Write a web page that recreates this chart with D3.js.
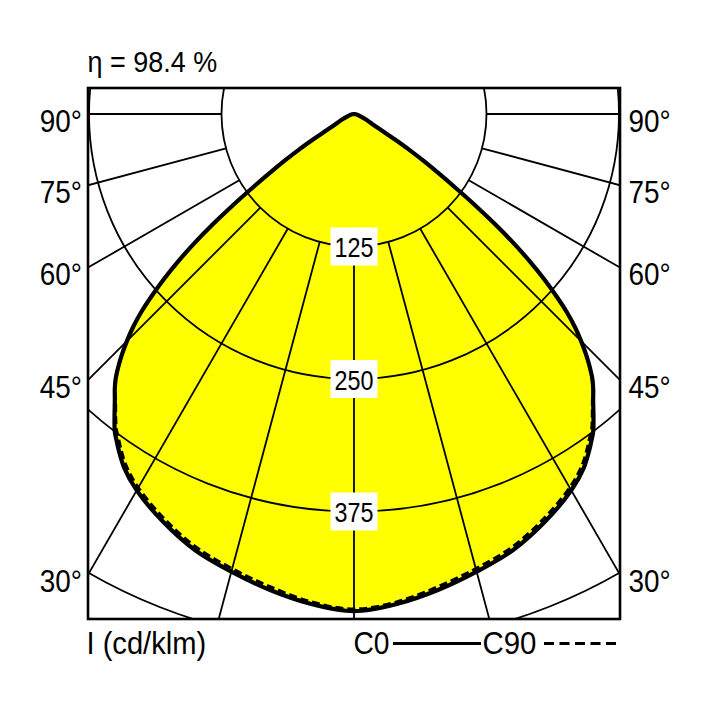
<!DOCTYPE html>
<html>
<head>
<meta charset="utf-8">
<script src="https://cdn.jsdelivr.net/npm/d3@7"></script>
<style>
  html, body { margin: 0; padding: 0; background: #fff; }
  text { font-family: "Liberation Sans", Arial, Helvetica, sans-serif; fill: #000; }
</style>
</head>
<body>
<svg id="chart" width="708" height="708"></svg>
<script>
// ---- data ----
const title = "η = 98.4 %";
const unitLabel = "I (cd/klm)";
const angles = [0, 5, 10, 15, 20, 25, 30, 33, 35, 36, 37, 38, 40, 41, 42, 43, 44, 45, 46, 47, 48, 49, 50, 51, 52, 53, 54, 55, 56, 57, 58, 59, 60, 62, 65, 70, 75, 80, 90];
const c0  = [469, 464, 456, 447, 438, 425, 410, 398, 387, 381, 375, 367, 351, 344, 336, 326, 315, 303, 290, 275, 257, 238, 217, 194, 169, 143, 118, 97, 80, 63, 46, 33, 25, 18, 12.5, 6.5, 4, 2.5, 0];
const c90 = [467, 462, 453, 444, 435, 422, 407, 395, 384, 378, 372.5, 365, 350, 344, 336, 326, 315, 303, 290, 275, 257, 238, 217, 194, 169, 143, 118, 97, 80, 63, 46, 33, 25, 18, 12.5, 6.5, 4, 2.5, 0];
const ringValues = [125, 250, 375, 500];
const ringLabels = [125, 250, 375];
const gridAngles = [-90, -75, -60, -45, -30, -15, 0, 15, 30, 45, 60, 75, 90];
const sideLabels = [90, 75, 60, 45, 30];
const legendNames = ["C0", "C90"];

// ---- layout ----
const svg = d3.select("#chart");
const fx0 = 88, fy0 = 88, fx1 = 620, fy1 = 619;
const cx = 354, cy = 114;
const r = d3.scaleLinear().domain([0, 125]).range([0, 132.5]);
const rad = d => d * Math.PI / 180;

svg.append("defs").append("clipPath").attr("id", "frameClip")
  .append("rect").attr("x", fx0).attr("y", fy0).attr("width", fx1 - fx0).attr("height", fy1 - fy0);

const plot = svg.append("g").attr("clip-path", "url(#frameClip)");
const g = plot.append("g").attr("transform", `translate(${cx},${cy})`);

function polarPoints(vals) {
  const pts = [];
  for (let i = angles.length - 1; i >= 0; i--) pts.push([Math.PI - rad(angles[i]), r(vals[i])]);
  for (let i = 1; i < angles.length; i++) pts.push([Math.PI + rad(angles[i]), r(vals[i])]);
  return pts;
}
const radial = d3.lineRadial().angle(d => d[0]).radius(d => d[1]).curve(d3.curveCatmullRom.alpha(0.5));

// yellow fill
g.append("path").attr("d", radial(polarPoints(c0)) + "Z").attr("fill", "#ffff00").attr("stroke", "none");

// grid rings
g.selectAll("circle.ring").data(ringValues).join("circle")
  .attr("class", "ring").attr("r", d => r(d))
  .attr("fill", "none").attr("stroke", "#000").attr("stroke-width", 1.8);

// radial lines
g.selectAll("line.spoke").data(gridAngles).join("line")
  .attr("class", "spoke")
  .attr("x1", d => r(125) * Math.sin(rad(d))).attr("y1", d => r(125) * Math.cos(rad(d)))
  .attr("x2", d => r(800) * Math.sin(rad(d))).attr("y2", d => r(800) * Math.cos(rad(d)))
  .attr("stroke", "#000").attr("stroke-width", 1.8);

// curves
g.append("path").attr("d", radial(polarPoints(c0)))
  .attr("fill", "none").attr("stroke", "#000").attr("stroke-width", 4.2)
  .attr("stroke-linejoin", "round").attr("stroke-linecap", "round");
g.append("path").attr("d", radial(polarPoints(c90)))
  .attr("fill", "none").attr("stroke", "#000").attr("stroke-width", 3)
  .attr("stroke-dasharray", "8,4");

// helper: condensed text
function ctext(parent, x, y, str, size, sx, anchor) {
  return parent.append("text")
    .attr("transform", `translate(${x},${y}) scale(${sx},1)`)
    .attr("text-anchor", anchor || "start")
    .attr("font-size", size).text(str);
}

// ring value labels in white boxes
ringLabels.forEach(d => {
  const lg = g.append("g").attr("transform", `translate(0,${r(d)})`);
  lg.append("rect").attr("x", -23.5).attr("y", -19).attr("width", 47).attr("height", 38).attr("fill", "#fff");
  ctext(lg, 0, 10.5, d, 28.5, 0.82, "middle");
});

// frame
svg.append("rect").attr("x", fx0).attr("y", fy0).attr("width", fx1 - fx0).attr("height", fy1 - fy0)
  .attr("fill", "none").attr("stroke", "#000").attr("stroke-width", 2.6);

// side labels
const sideY = d => cy + (cx - fx0) / Math.tan(rad(d));
sideLabels.forEach(d => {
  const y = (d === 90 ? cy : sideY(d)) + 17.5;
  ctext(svg, 82, y, d + "°", 31, 0.9, "end");
  ctext(svg, 628.5, y, d + "°", 31, 0.9, "start");
});

// title
ctext(svg, 87.5, 72, title, 29, 0.93, "start");

// bottom labels and legend
const by = 653.5;
ctext(svg, 86.5, by, unitLabel, 32, 0.91, "start");
ctext(svg, 353.5, by, legendNames[0], 32, 0.88, "start");
svg.append("line").attr("x1", 393).attr("x2", 481).attr("y1", by - 10).attr("y2", by - 10)
  .attr("stroke", "#000").attr("stroke-width", 3.2);
ctext(svg, 482.5, by, legendNames[1], 32, 0.92, "start");
svg.append("line").attr("x1", 544).attr("x2", 616).attr("y1", by - 10).attr("y2", by - 10)
  .attr("stroke", "#000").attr("stroke-width", 3.2).attr("stroke-dasharray", "10,5.5");
</script>
</body>
</html>
